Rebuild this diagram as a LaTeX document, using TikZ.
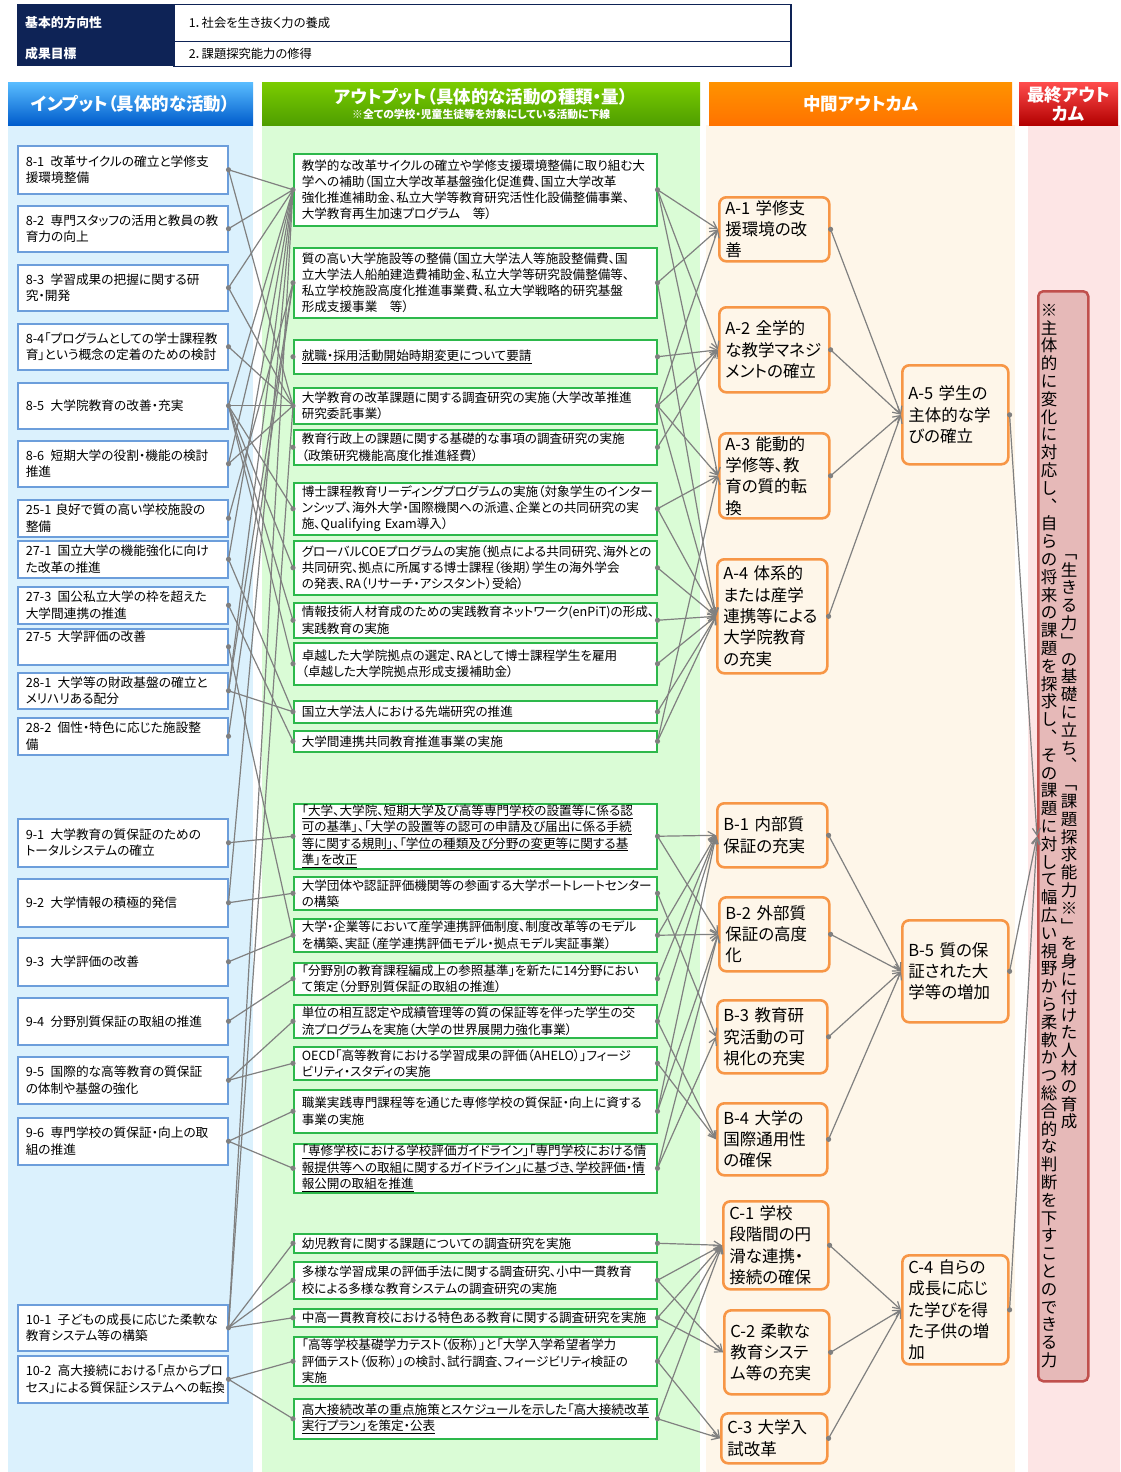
\documentclass[tikz,border=0pt]{standalone}
\usepackage{fontspec}
\setmainfont{Noto Sans CJK JP}[RawFeature=+palt]
\newfontfamily\tatefont{Noto Sans CJK JP}
\usetikzlibrary{arrows.meta}

\definecolor{navyc}{HTML}{0E2356}
\definecolor{inblue}{HTML}{6C9EDB}
\definecolor{outgreen}{HTML}{2DB84B}
\definecolor{midorange}{HTML}{F79646}
\definecolor{finred}{HTML}{C0504D}
\definecolor{finfill}{HTML}{E6B9B8}
\definecolor{inbg}{HTML}{DBF1FD}
\definecolor{outbg}{HTML}{DAFCD6}
\definecolor{midbg}{HTML}{FEF6E9}
\definecolor{finbg}{HTML}{FDE5E5}
\definecolor{linegray}{HTML}{808080}

\newcommand\fsin{\fontsize{12.7}{16.5}\selectfont}
\newcommand\fsout{\fontsize{12.6}{16.2}\selectfont}
\newcommand\fsmid{\fontsize{16.5}{21.3}\selectfont}
\newcommand\ulx[1]{\underline{#1}}
\newcommand\num[1]{\mbox{#1}}
% one character per line, for the upright column text
\def\tatestep#1{\ifx\relax#1\else\hbox to 1.05em{\hss#1\hss}\expandafter\tatestep\fi}
\newcommand\tatecol[1]{\vbox{\tatestep#1\relax}}

\begin{document}
\begin{tikzpicture}[x=1pt,y=-1pt,
  inbox/.style={draw=inblue, fill=white, line width=1.5pt, anchor=north west, inner xsep=8pt, inner ysep=0pt, text width=194pt, align=left, font=\fsin},
  outbox/.style={draw=outgreen, fill=white, line width=1.5pt, anchor=north west, inner xsep=8pt, inner ysep=0pt, text width=347pt, align=left, font=\fsout},
  midbox/.style={draw=midorange, fill=midbg, line width=2.6pt, rounded corners=7pt, anchor=north west, inner xsep=6pt, inner ysep=0pt, text width=98pt, align=left, font=\fsmid},
  hdr/.style={text=white, font=\bfseries\fontsize{17.5}{19}\selectfont, align=center, inner sep=0pt, anchor=north west, minimum height=43pt},
  tabkey/.style={fill=navyc, text=white, font=\bfseries\fontsize{12.8}{14}\selectfont, anchor=north west, minimum width=156pt, text width=140pt, inner xsep=8pt, align=left},
  tabval/.style={draw=navyc, line width=1.5pt, fill=white, font=\fontsize{12.3}{14}\selectfont, anchor=north west, text width=587pt, inner xsep=15pt, align=left},
  link/.style={draw=linegray, line width=1.2pt},
  arr/.style={link, -{Straight Barb[length=7pt,width=8pt]}},
]
\useasboundingbox (0,0) rectangle (1120,1472);

% Column backgrounds
\fill[inbg] (8,125) rectangle (253,1472);
\fill[outbg] (262,125) rectangle (700,1472);
\fill[midbg] (706,125) rectangle (1015,1472);
\fill[finbg] (1028,125) rectangle (1120,1472);

% Header table
\node[tabkey, minimum height=37pt] (k1) at (17,4) {基本的方向性};
\node[tabval, minimum height=37pt] (v1) at (173,4) {1．社会を生き抜く力の養成};
\node[tabkey, minimum height=25pt] (k2) at (17,41) {成果目標};
\node[tabval, minimum height=25pt] (v2) at (173,41) {2．課題探究能力の修得};

% Column headers
\node[hdr, top color=blue!40!cyan!65!white, bottom color=blue!55!cyan!80!black, minimum width=245pt] (hin) at (8,82) {インプット（具体的な活動）};
\node[hdr, top color=green!40!yellow!80!black, bottom color=green!50!yellow!62!black, minimum width=438pt] (hout) at (262,82) {アウトプット（具体的な活動の種類・量）\\[-4pt]{\fontsize{10.8}{12}\selectfont ※全ての学校・児童生徒等を対象にしている活動に下線}};
\node[hdr, top color=orange!85!yellow, bottom color=orange!90!red, minimum width=303pt] (hmid) at (709,82) {中間アウトカム};
\node[hdr, top color=red!70!white, bottom color=red!70!black, minimum width=99pt] (hfin) at (1019,82) {最終アウト\\カム};

% Draw the nodes used for the picture
\node[inbox, minimum height=48pt] (i81) at (17,145) {\num{8-1}\enspace 改革サイクルの確立と学修支\\援環境整備};
\node[inbox, minimum height=46pt] (i82) at (17,205) {\num{8-2}\enspace 専門スタッフの活用と教員の教\\育力の向上};
\node[inbox, minimum height=46pt] (i83) at (17,264) {\num{8-3}\enspace 学習成果の把握に関する研\\究・開発};
\node[inbox, minimum height=46pt] (i84) at (17,323) {\num{8-4}「プログラムとしての学士課程教\\育」という概念の定着のための検討};
\node[inbox, minimum height=46pt] (i85) at (17,382) {\num{8-5}\enspace 大学院教育の改善・充実};
\node[inbox, minimum height=46pt] (i86) at (17,440) {\num{8-6}\enspace 短期大学の役割・機能の検討\\推進};
\node[inbox, minimum height=37pt] (i251) at (17,499) {\num{25-1} 良好で質の高い学校施設の\\整備};
\node[inbox, minimum height=37pt] (i271) at (17,540) {\num{27-1}\enspace 国立大学の機能強化に向け\\た改革の推進};
\node[inbox, minimum height=37pt] (i273) at (17,586) {\num{27-3}\enspace 国公私立大学の枠を超えた\\大学間連携の推進};
\node[inbox, minimum height=36pt] (i275) at (17,628) {\num{27-5}\enspace 大学評価の改善\\\strut};
\node[inbox, minimum height=36pt] (i281) at (17,672) {\num{28-1}\enspace 大学等の財政基盤の確立と\\メリハリある配分};
\node[inbox, minimum height=37pt] (i282) at (17,717) {\num{28-2}\enspace 個性・特色に応じた施設整\\備};
\node[inbox, minimum height=48pt] (i91) at (17,818) {\num{9-1}\enspace 大学教育の質保証のための\\トータルシステムの確立};
\node[inbox, minimum height=48pt] (i92) at (17,878) {\num{9-2}\enspace 大学情報の積極的発信};
\node[inbox, minimum height=48pt] (i93) at (17,937) {\num{9-3}\enspace 大学評価の改善};
\node[inbox, minimum height=47pt] (i94) at (17,997) {\num{9-4}\enspace 分野別質保証の取組の推進};
\node[inbox, minimum height=47pt] (i95) at (17,1056) {\num{9-5}\enspace 国際的な高等教育の質保証\\の体制や基盤の強化};
\node[inbox, minimum height=47pt] (i96) at (17,1117) {\num{9-6}\enspace 専門学校の質保証・向上の取\\組の推進};
\node[inbox, minimum height=46pt] (i101) at (17,1304) {\num{10-1}\enspace 子どもの成長に応じた柔軟な\\教育システム等の構築};
\node[inbox, minimum height=47pt] (i102) at (17,1355) {\num{10-2}\enspace 高大接続における「点からプロ\\セス」による質保証システムへの転換};

\node[outbox, minimum height=72pt] (o1) at (293,153) {教学的な改革サイクルの確立や学修支援環境整備に取り組む大\\学への補助（国立大学改革基盤強化促進費、国立大学改革\\強化推進補助金、私立大学等教育研究活性化設備整備事業、\\大学教育再生加速プログラム　等）};
\node[outbox, minimum height=70pt] (o2) at (293,247) {質の高い大学施設等の整備（国立大学法人等施設整備費、国\\立大学法人船舶建造費補助金、私立大学等研究設備整備等、\\私立学校施設高度化推進事業費、私立大学戦略的研究基盤\\形成支援事業　等）};
\node[outbox, minimum height=34pt] (o3) at (293,339) {\ulx{就職・採用活動開始時期変更について要請}};
\node[outbox, minimum height=36pt] (o4) at (293,387) {大学教育の改革課題に関する調査研究の実施（大学改革推進\\研究委託事業）};
\node[outbox, minimum height=35pt] (o5) at (293,429) {教育行政上の課題に関する基礎的な事項の調査研究の実施\\（政策研究機能高度化推進経費）};
\node[outbox, minimum height=52pt] (o6) at (293,482) {博士課程教育リーディングプログラムの実施（対象学生のインター\\ンシップ、海外大学・国際機関への派遣、企業との共同研究の実\\施、Qualifying Exam導入）};
\node[outbox, minimum height=54pt] (o7) at (293,540) {グローバルCOEプログラムの実施（拠点による共同研究、海外との\\共同研究、拠点に所属する博士課程（後期）学生の海外学会\\の発表、RA（リサーチ・アシスタント）受給）};
\node[outbox, minimum height=35pt] (o8) at (293,602) {情報技術人材育成のための実践教育ネットワーク(enPiT)の形成、\\実践教育の実施};
\node[outbox, minimum height=42pt] (o9) at (293,642) {卓越した大学院拠点の選定、RAとして博士課程学生を雇用\\（卓越した大学院拠点形成支援補助金）};
\node[outbox, minimum height=22pt] (o10) at (293,700) {国立大学法人における先端研究の推進};
\node[outbox, minimum height=21pt] (o11) at (293,730) {大学間連携共同教育推進事業の実施};

\node[outbox, minimum height=65pt] (p1) at (293,803) {\ulx{「大学、大学院、短期大学及び高等専門学校の設置等に係る認}\\\ulx{可の基準」、「大学の設置等の認可の申請及び届出に係る手続}\\\ulx{等に関する規則」、「学位の種類及び分野の変更等に関する基}\\\ulx{準」を改正}};
\node[outbox, minimum height=33pt] (p2) at (293,876) {大学団体や認証評価機関等の参画する大学ポートレートセンター\\の構築};
\node[outbox, minimum height=33pt] (p3) at (293,918) {大学・企業等において産学連携評価制度、制度改革等のモデル\\を構築、実証（産学連携評価モデル・拠点モデル実証事業）};
\node[outbox, minimum height=32pt] (p4) at (293,962) {「分野別の教育課程編成上の参照基準」を新たに14分野におい\\て策定（分野別質保証の取組の推進）};
\node[outbox, minimum height=33pt] (p5) at (293,1004) {単位の相互認定や成績管理等の質の保証等を伴った学生の交\\流プログラムを実施（大学の世界展開力強化事業）};
\node[outbox, minimum height=33pt] (p6) at (293,1046) {OECD「高等教育における学習成果の評価（AHELO）」フィージ\\ビリティ・スタディの実施};
\node[outbox, minimum height=43pt] (p7) at (293,1089) {職業実践専門課程等を通じた専修学校の質保証・向上に資する\\事業の実施};
\node[outbox, minimum height=49pt] (p8) at (293,1143) {\ulx{「専修学校における学校評価ガイドライン」「専門学校における情}\\\ulx{報提供等への取組に関するガイドライン」に基づき、学校評価・情}\\\ulx{報公開の取組を推進}};

\node[outbox, minimum height=19pt] (q1) at (293,1233) {幼児教育に関する課題についての調査研究を実施};
\node[outbox, minimum height=37pt] (q2) at (293,1261) {多様な学習成果の評価手法に関する調査研究、小中一貫教育\\校による多様な教育システムの調査研究の実施};
\node[outbox, minimum height=18pt] (q3) at (293,1308) {中高一貫教育校における特色ある教育に関する調査研究を実施};
\node[outbox, minimum height=49pt] (q4) at (293,1336) {「高等学校基礎学力テスト（仮称）」と「大学入学希望者学力\\評価テスト（仮称）」の検討、試行調査、フィージビリティ検証の\\実施};
\node[outbox, minimum height=40pt] (q5) at (293,1398) {\ulx{高大接続改革の重点施策とスケジュールを示した「高大接続改革}\\\ulx{実行プラン」を策定・公表}};

\node[midbox, minimum height=64pt] (a1) at (718,196) {A-1 学修支\\援環境の改\\善};
\node[midbox, minimum height=85pt] (a2) at (718,306) {A-2 全学的\\な教学マネジ\\メントの確立};
\node[midbox, minimum height=85pt] (a3) at (718,432) {A-3 能動的\\学修等、教\\育の質的転\\換};
\node[midbox, minimum height=114pt] (a4) at (716,558) {A-4 体系的\\または産学\\連携等による\\大学院教育\\の充実};
\node[midbox, minimum height=99pt, text width=94pt] (a5) at (901,364) {A-5 学生の\\主体的な学\\びの確立};
\node[midbox, minimum height=64pt] (b1) at (716,802) {B-1 内部質\\保証の充実};
\node[midbox, minimum height=74pt] (b2) at (718,896) {B-2 外部質\\保証の高度\\化};
\node[midbox, minimum height=73pt] (b3) at (716,999) {B-3 教育研\\究活動の可\\視化の充実};
\node[midbox, minimum height=72pt] (b4) at (716,1102) {B-4 大学の\\国際通用性\\の確保};
\node[midbox, minimum height=102pt, text width=94pt] (b5) at (901,919) {B-5 質の保\\証された大\\学等の増加};
\node[midbox, minimum height=88pt, text width=93pt] (c1) at (722,1200) {C-1 学校\\段階間の円\\滑な連携・\\接続の確保};
\node[midbox, minimum height=84pt, text width=93pt] (c2) at (723,1309) {C-2 柔軟な\\教育システ\\ム等の充実};
\node[midbox, minimum height=50pt, text width=94pt] (c3) at (720,1412) {C-3 大学入\\試改革};
\node[midbox, minimum height=109pt, text width=94pt] (c4) at (901,1254) {C-4 自らの\\成長に応じ\\た学びを得\\た子供の増\\加};

\node[draw=finred, fill=finfill, line width=2.5pt, rounded corners=5pt, anchor=north west, minimum width=50pt, minimum height=1090pt] (fin) at (1037,290) {};
\node[inner sep=0pt, font=\tatefont\fontsize{16.5}{17.8}\selectfont] (finr) at (1069,842) {\tatecol{﹁生きる力﹂の基礎に立ち︑﹁課題探求能力※﹂を身に付けた人材の育成}};
\node[inner sep=0pt, font=\tatefont\fontsize{16.5}{17.8}\selectfont] (finl) at (1049,836) {\tatecol{※主体的に変化に対応し︑自らの将来の課題を探求し︑その課題に対して幅広い視野から柔軟かつ総合的な判断を下すことのできる力}};

% Draw the edges between the nodes
\foreach \a/\b in {i81/o1, i81/o4, i82/o1, i83/o1, i83/o4, i84/o4, i85/o1, i85/o4, i85/o6, i85/o7, i85/o8, i85/o9,
  i86/o1, i86/o4, i251/o2, i271/o1, i271/o10, i273/o11, i275/p3, i281/o1, i281/o2, i281/o10, i282/o2,
  i91/p1, i92/p2, i92/o1, i93/p3, i94/p4, i95/p5, i95/p6, i96/p7, i96/p8,
  i101/q1, i101/q2, i101/q3, i101/o1, i101/o4, i102/q4, i102/q5}
  \draw[link] (\a.east) -- (\b.west);
\foreach \a/\b in {o1/a1, o1/a2, o1/a3, o2/a1, o2/a4, o3/a2, o4/a1, o4/a2, o4/a3, o4/a4, o5/a2,
  o6/a3, o6/a4, o7/a4, o8/a4, o9/a4, o10/a4, o11/a3, o11/a4,
  p1/b1, p1/b2, p2/b3, p3/b1, p3/b2, p4/b1, p5/b1, p5/b4, p6/b4, p7/b1, p7/b2, p8/b2, p8/b3,
  q1/c1, q2/c1, q2/c2, q3/c1, q3/c2, q4/c1, q4/c3, q5/c1, q5/c3,
  a1/a5, a2/a5, a3/a5, a4/a5, b1/b5, b2/b5, b3/b5, b4/b5, c1/c4, c2/c4, c3/c4}
  \draw[arr] (\a.east) -- (\b.west);
\foreach \a in {a5, b5, c4}
  \draw[arr] (\a.east) -- (fin.west);

% Dots at the line ends
\foreach \n in {i81,i82,i83,i84,i85,i86,i251,i271,i273,i275,i281,i282,i91,i92,i93,i94,i95,i96,i101,i102,
  a1,a2,a3,a4,a5,b1,b2,b3,b4,b5,c1,c2,c3,c4}
  \fill[linegray] (\n.east) circle (2.6);
\foreach \n in {o1,o2,o3,o4,o5,o6,o7,o8,o9,o10,o11,p1,p2,p3,p4,p5,p6,p7,p8,q1,q2,q3,q4,q5}
  {\fill[linegray] (\n.east) circle (2.6); \fill[linegray] (\n.west) circle (2.6);}
\end{tikzpicture}
\end{document}
